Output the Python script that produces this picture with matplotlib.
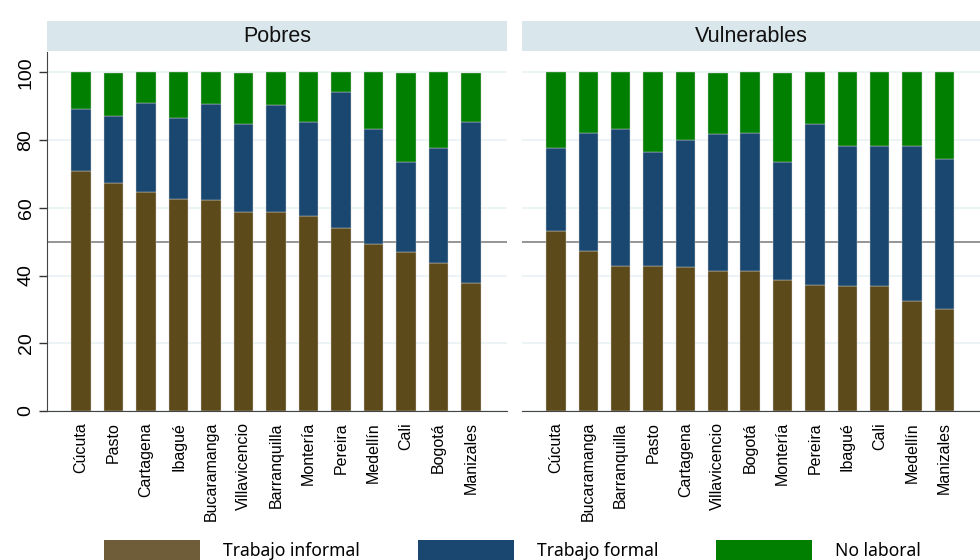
import matplotlib.pyplot as plt
from matplotlib.patches import Patch, Rectangle

# data
pobres_ciudades = ["Cúcuta", "Pasto", "Cartagena", "Ibagué", "Bucaramanga", "Villavicencio",
                   "Barranquilla", "Montería", "Pereira", "Medellín", "Cali", "Bogotá", "Manizales"]
pobres_informal = [71.0, 67.2, 64.7, 62.5, 62.2, 58.8, 58.7, 57.7, 54.0, 49.4, 46.8, 43.7, 37.7]
pobres_formal = [18.1, 19.8, 26.1, 24.1, 28.3, 25.9, 31.7, 27.5, 40.1, 34.0, 26.8, 34.1, 47.7]
pobres_nolab = [11.0, 12.9, 9.2, 13.4, 9.5, 15.2, 9.6, 14.8, 5.9, 16.6, 26.3, 22.2, 14.5]

vuln_ciudades = ["Cúcuta", "Bucaramanga", "Barranquilla", "Pasto", "Cartagena", "Villavicencio",
                 "Bogotá", "Montería", "Pereira", "Ibagué", "Cali", "Medellín", "Manizales"]
vuln_informal = [53.2, 47.2, 42.9, 42.8, 42.5, 41.3, 41.3, 38.6, 37.1, 36.8, 36.8, 32.4, 30.2]
vuln_formal = [24.6, 35.0, 40.5, 33.8, 37.5, 40.4, 40.9, 35.0, 47.5, 41.5, 41.4, 45.8, 44.3]
vuln_nolab = [22.2, 17.8, 16.6, 23.4, 20.0, 18.2, 17.8, 26.3, 15.4, 21.7, 21.8, 21.8, 25.6]

series = ["Trabajo informal", "Trabajo formal", "No laboral"]
colores = ["#5c4a1a", "#1a476f", "#007f00"]
colores_leyenda = ["#6f5d3a", "#1a476f", "#007f00"]

paneles = [
    ("Pobres", pobres_ciudades, [pobres_informal, pobres_formal, pobres_nolab]),
    ("Vulnerables", vuln_ciudades, [vuln_informal, vuln_formal, vuln_nolab]),
]

W, H = 980, 560
fig = plt.figure(figsize=(9.8, 5.6), dpi=100)
fig.patch.set_facecolor("white")

# panel boxes in pixels: (left, right)
cajas = [(47, 507), (522, 980)]
top_px, bot_px = 52, 411

for k, (titulo, ciudades, valores) in enumerate(paneles):
    l, r = cajas[k]
    ax = fig.add_axes([l / W, 1 - bot_px / H, (r - l) / W, (bot_px - top_px) / H])
    x = list(range(1, len(ciudades) + 1))
    base = [0] * len(ciudades)
    for vals, col in zip(valores, colores):
        ax.bar(x, vals, bottom=base, width=0.6, color=col, edgecolor="#d0d0d0",
               linewidth=0.3, zorder=3)
        base = [b + v for b, v in zip(base, vals)]
    ax.set_xlim(-0.05, 14.1)
    ax.set_ylim(0, 106)
    ax.set_yticks([0, 20, 40, 60, 80, 100])
    ax.set_xticks(x)
    ax.set_xticklabels(ciudades, rotation=90, fontsize=11.5, family="Liberation Sans")
    ax.tick_params(axis="x", length=0, pad=8)
    if k == 0:
        ax.set_yticklabels(["0", "20", "40", "60", "80", "100"], rotation=90,
                           va="center", fontsize=14, family="Liberation Sans")
        ax.tick_params(axis="y", length=6, width=1, color="#333333", pad=3)
        ax.spines["left"].set_color("#444444")
    else:
        ax.set_yticklabels([])
        ax.tick_params(axis="y", length=0)
        ax.spines["left"].set_visible(False)
    ax.yaxis.grid(True, color="#eaf2f3", linewidth=1.2, zorder=0)
    ax.set_axisbelow(True)
    ax.axhline(50, color="#8c8c8c", linewidth=1.3, zorder=1)
    for s in ["top", "right"]:
        ax.spines[s].set_visible(False)
    ax.spines["bottom"].set_color("#444444")
    ax.set_facecolor("white")

    # header strip
    fig.add_artist(Rectangle((l / W, 1 - 51 / H), (r - l) / W, 30 / H,
                             transform=fig.transFigure, facecolor="#d9e6eb",
                             edgecolor="none"))
    fig.text((l + r) / 2 / W, 1 - 36 / H, titulo, ha="center", va="center",
             fontsize=15.5, family="Liberation Sans", color="#111111")

handles = [Patch(facecolor=c, edgecolor="none") for c in colores_leyenda]
fig.legend(handles, series, loc="upper left", bbox_to_anchor=(104 / W, 1 - 540 / H),
           ncol=3, frameon=False, borderpad=0, borderaxespad=0,
           handlelength=5.5, handleheight=1.5, handletextpad=1.3, columnspacing=3.3,
           prop={"family": "Noto Sans", "size": 12.6})

fig.savefig("out.png", dpi=100)
